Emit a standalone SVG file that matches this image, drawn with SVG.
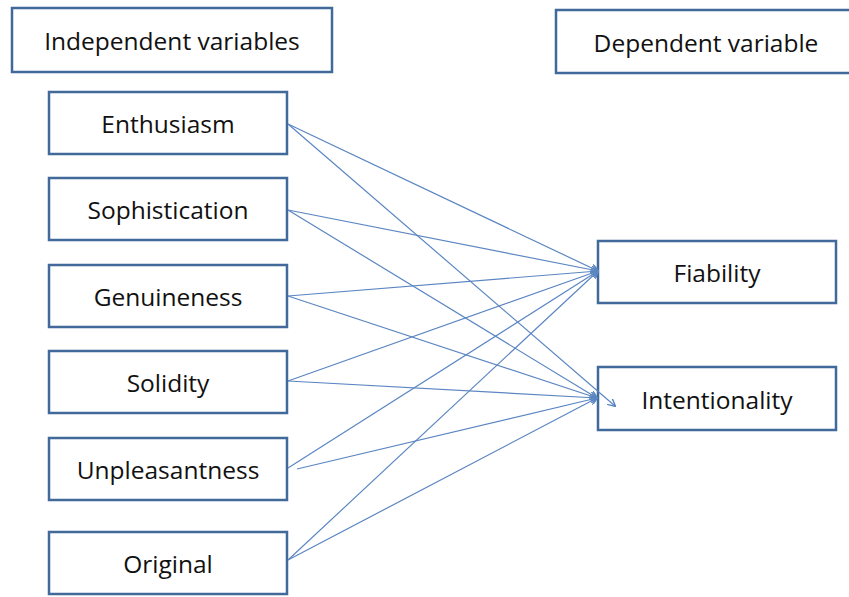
<svg xmlns="http://www.w3.org/2000/svg" width="849" height="597" viewBox="0 0 849 597">
<defs>
<style>
.box{fill:#fff;stroke:#41699a;stroke-width:2.5}
.lbl{font-family:"Open Sans","Liberation Sans",sans-serif;font-size:24.5px;fill:#111;text-anchor:middle;dominant-baseline:central}
.c{stroke:#5b86c2;stroke-width:1.2;fill:none;marker-end:url(#ah)}
</style>
<marker id="ah" viewBox="0 0 10 10" refX="9" refY="5" markerWidth="8" markerHeight="8" orient="auto" markerUnits="userSpaceOnUse">
<path d="M0,0 L10,5 L0,10" fill="none" stroke="#5b86c2" stroke-width="1.8"/>
</marker>
</defs>
<rect width="849" height="597" fill="#fff"/>
<g id="hdr-indep"><rect class="box" x="12" y="8" width="320" height="64"/><text class="lbl" x="172" y="40">Independent variables</text></g>
<g id="hdr-dep"><rect class="box" x="556" y="10" width="300" height="63"/><text class="lbl" x="706" y="42">Dependent variable</text></g>
<g id="n-enthusiasm"><rect class="box" x="49" y="92" width="238" height="62"/><text class="lbl" x="168" y="123">Enthusiasm</text></g>
<g id="n-sophistication"><rect class="box" x="49" y="178" width="238" height="62"/><text class="lbl" x="168" y="209">Sophistication</text></g>
<g id="n-genuineness"><rect class="box" x="49" y="265" width="238" height="62"/><text class="lbl" x="168" y="296">Genuineness</text></g>
<g id="n-solidity"><rect class="box" x="49" y="351" width="238" height="62"/><text class="lbl" x="168" y="382">Solidity</text></g>
<g id="n-unpleasantness"><rect class="box" x="49" y="438" width="238" height="62"/><text class="lbl" x="168" y="469">Unpleasantness</text></g>
<g id="n-original"><rect class="box" x="49" y="532" width="238" height="62"/><text class="lbl" x="168" y="563">Original</text></g>
<g id="n-fiability"><rect class="box" x="598" y="241" width="238" height="62"/><text class="lbl" x="717" y="272">Fiability</text></g>
<g id="n-intentionality"><rect class="box" x="598" y="367" width="238" height="63"/><text class="lbl" x="717" y="399">Intentionality</text></g>
<g id="connectors">
<line class="c" x1="288" y1="124" x2="598" y2="271"/>
<line class="c" x1="288" y1="124" x2="615" y2="406"/>
<line class="c" x1="288" y1="210" x2="598" y2="271"/>
<line class="c" x1="288" y1="210" x2="597" y2="398"/>
<line class="c" x1="288" y1="296" x2="598" y2="271"/>
<line class="c" x1="288" y1="296" x2="597" y2="398"/>
<line class="c" x1="288" y1="381" x2="598" y2="271"/>
<line class="c" x1="288" y1="381" x2="597" y2="398"/>
<line class="c" x1="288" y1="468" x2="598" y2="271"/>
<line class="c" x1="297" y1="469" x2="597" y2="398"/>
<line class="c" x1="288" y1="560" x2="598" y2="271"/>
<line class="c" x1="288" y1="560" x2="597" y2="398"/>
</g>
</svg>
